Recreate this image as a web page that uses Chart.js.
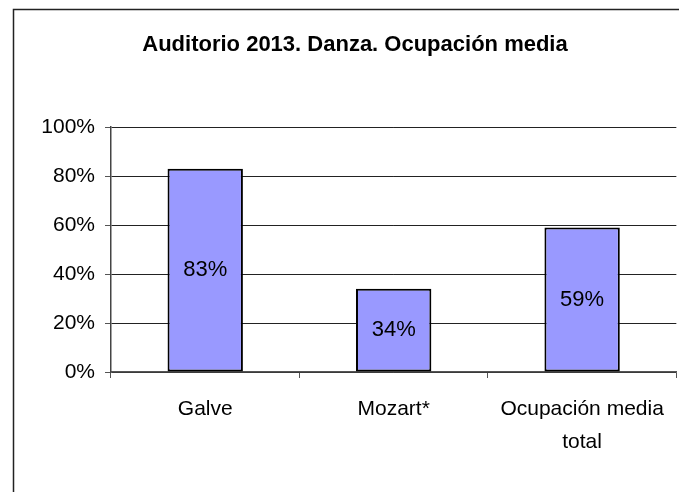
<!DOCTYPE html>
<html>
<head>
<meta charset="utf-8">
<script src="https://cdn.jsdelivr.net/npm/chart.js@4/dist/chart.umd.min.js"></script>
<style>
  html, body { margin: 0; padding: 0; background: #fff; }
  #wrap { width: 679px; height: 492px; }
</style>
</head>
<body>
<div id="wrap"><canvas id="chart" width="679" height="492"></canvas></div>
<script>
const categories = ["Galve", "Mozart*", ["Ocupación media", "total"]];
const ocupacion = [83, 34, 59];
const yTicks = [0, 20, 40, 60, 80, 100];

// marco exterior del gráfico
const framePlugin = {
    id: "frame",
    beforeDraw(chart) {
        const ctx = chart.ctx;
        ctx.save();
        ctx.fillStyle = "#fff";
        ctx.fillRect(0, 0, chart.width, chart.height);
        ctx.strokeStyle = "#222";
        ctx.lineWidth = 1.5;
        ctx.strokeRect(13.5, 9.5, 800, 800);
        ctx.restore();
    }
};

// etiquetas de valor en el centro de cada barra
const valueLabels = {
    id: "valueLabels",
    afterDatasetsDraw(chart) {
        const ctx = chart.ctx;
        const meta = chart.getDatasetMeta(0);
        ctx.save();
        ctx.font = "22px 'Liberation Sans', Arial, sans-serif";
        ctx.fillStyle = "#000";
        ctx.textAlign = "center";
        ctx.textBaseline = "middle";
        meta.data.forEach((bar, i) => {
            const mid = (bar.y + bar.base) / 2;
            ctx.fillText(ocupacion[i] + "%", bar.x, mid);
        });
        ctx.restore();
    }
};

new Chart(document.getElementById("chart").getContext("2d"), {
    type: "bar",
    data: {
        labels: categories,
        datasets: [{
            data: ocupacion,
            backgroundColor: "#9999ff",
            borderColor: "#000",
            borderWidth: 2,
            borderSkipped: false,
            categoryPercentage: 1,
            barPercentage: 0.4
        }]
    },
    options: {
        responsive: false,
        animation: false,
        layout: { padding: { left: 32, right: 1, top: 0, bottom: 0 } },
        plugins: {
            legend: { display: false },
            tooltip: { enabled: false },
            title: {
                display: true,
                text: "Auditorio 2013. Danza. Ocupación media",
                color: "#000",
                font: { family: "'Liberation Sans', Arial, sans-serif", size: 22, weight: "bold", lineHeight: 1.2 },
                padding: { top: 32, bottom: 68.6 }
            }
        },
        scales: {
            x: {
                grid: {
                    offset: true,
                    drawOnChartArea: true,
                    color: ctx => ctx.index === 3 ? "#888" : "rgba(0,0,0,0)",
                    tickColor: "#555",
                    tickLength: 6
                },
                border: { color: "#555", width: 1.5 },
                ticks: {
                    color: "#000",
                    padding: 15,
                    maxRotation: 0,
                    autoSkip: false,
                    font: { family: "'Liberation Sans', Arial, sans-serif", size: 21, lineHeight: 1.57 }
                },
                afterFit(scale) { scale.height = 120; }
            },
            y: {
                min: 0,
                max: 100,
                afterBuildTicks(scale) { scale.ticks = yTicks.map(v => ({ value: v })); },
                grid: { color: "#222", tickColor: "#555", tickLength: 6 },
                border: { color: "#444", width: 1.5 },
                ticks: {
                    color: "#000",
                    padding: 10,
                    callback: v => v + "%",
                    font: { family: "'Liberation Sans', Arial, sans-serif", size: 21 }
                },
                afterFit(scale) { scale.width = 79; }
            }
        }
    },
    plugins: [framePlugin, valueLabels]
});
</script>
</body>
</html>
